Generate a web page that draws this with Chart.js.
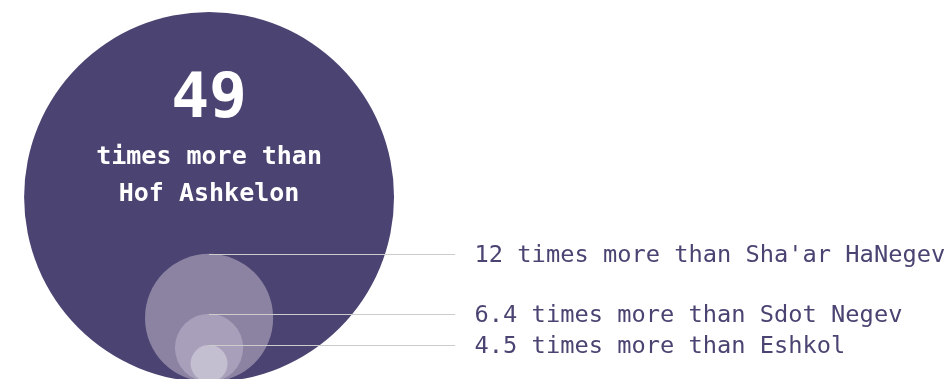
<!DOCTYPE html>
<html lang="en">
<head>
<meta charset="UTF-8" />
<title>Times more than</title>
<script src="https://cdn.jsdelivr.net/npm/chart.js"></script>
<style>
  html, body { margin: 0; padding: 0; background: #fff; }
  #wrap { width: 951px; height: 379px; }
</style>
</head>
<body>
<div id="wrap"><canvas id="chartCircles"></canvas></div>

<script>
// values
const places = ['Hof Ashkelon', "Sha'ar HaNegev", 'Sdot Negev', 'Eshkol'];
const ratioLabels = ['49', '12', '6.4', '4.5'];
// circle area, as a share of the biggest circle (%)
const areaShare = [100, 12, 3.4, 1.0];

const colores = ['#4b4472', '#8c83a3', '#a89fbb', '#c4bed1'];
const textColor = '#4b4472';
const monoFont = '"DejaVu Sans Mono", "Liberation Mono", monospace';

// circle radius in axis units: sqrt of the area share, big one = 10
const radiusUnits = areaShare.map(v => Math.sqrt(v));

// every circle sits on the same bottom line (y = 0)
const puntos = radiusUnits.map(r => ({ x: 0, y: r, r: 1 }));

const etiquetas = {
  id: 'etiquetas',
  afterDatasetsDraw(chart) {
    const c = chart.ctx;
    const meta = chart.getDatasetMeta(0);
    const big = meta.data[0];
    const xs = chart.scales.x;

    c.save();
    // text inside the big circle
    c.fillStyle = '#ffffff';
    c.textAlign = 'center';
    c.textBaseline = 'alphabetic';
    c.font = 'bold 63px ' + monoFont;
    c.fillText(ratioLabels[0], big.x, big.y - 80);
    c.font = 'bold 25px ' + monoFont;
    c.fillText('times more than', big.x, big.y - 33);
    c.fillText(places[0], big.x, big.y + 4);

    // leader lines and labels for the small circles
    const lineEnd = xs.getPixelForValue(13.3);
    const textX = xs.getPixelForValue(14.35);
    c.font = '23.7px ' + monoFont;
    c.textAlign = 'left';
    c.textBaseline = 'middle';
    for (let i = 1; i < meta.data.length; i++) {
      const el = meta.data[i];
      const top = Math.round(el.y - el.options.radius) + 0.5;
      c.strokeStyle = '#cccccc';
      c.lineWidth = 1;
      c.beginPath();
      c.moveTo(el.x, top);
      c.lineTo(lineEnd, top);
      c.stroke();
      c.fillStyle = textColor;
      c.fillText(ratioLabels[i] + ' times more than ' + places[i], textX, top + 1);
    }
    c.restore();
  }
};

try {
  const ctx = document.getElementById('chartCircles').getContext('2d');
  const chart = new Chart(ctx, {
    type: 'bubble',
    data: {
      datasets: [{
        data: puntos,
        backgroundColor: colores,
        borderWidth: 0,
        hoverBorderWidth: 0,
        clip: false
      }]
    },
    options: {
      responsive: true,
      maintainAspectRatio: false,
      animation: false,
      events: [],
      layout: { padding: 0, autoPadding: false },
      plugins: {
        legend: { display: false },
        tooltip: { enabled: false }
      },
      scales: {
        x: { type: 'linear', display: false, min: -11.3, max: 40.1 },
        y: { type: 'linear', display: false, min: 0.16, max: 20.65 }
      }
    },
    plugins: [etiquetas]
  });

  // bubble radius is in pixels: turn the radius units into pixels with the y scale
  const ys = chart.scales.y;
  puntos.forEach((p, i) => {
    p.r = Math.abs(ys.getPixelForValue(0) - ys.getPixelForValue(radiusUnits[i]));
  });
  chart.update();
} catch (error) {
  console.error('Error al graficar:', error);
}
</script>
</body>
</html>
